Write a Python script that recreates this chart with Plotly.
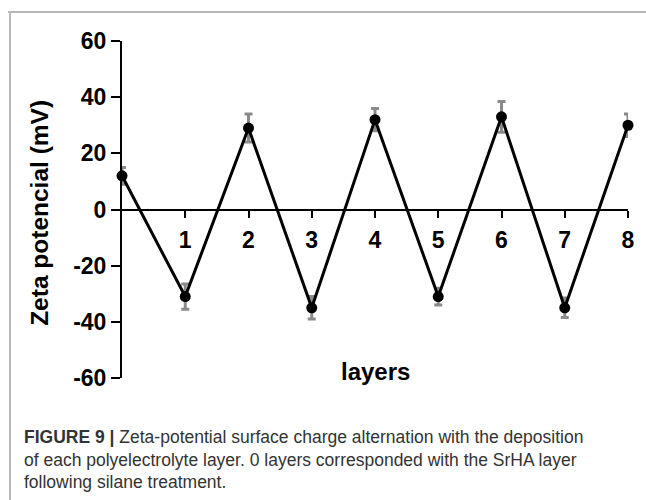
import plotly.graph_objects as go

layers = [0, 1, 2, 3, 4, 5, 6, 7, 8]
zeta = [12, -31, 29, -35, 32, -31, 33, -35, 30]
err = [3, 4.5, 5, 4, 4, 3, 5.5, 3.5, 4]
x_ticks = [1, 2, 3, 4, 5, 6, 7, 8]
y_ticks = [-60, -40, -20, 0, 20, 40, 60]

FONT = "Liberation Sans, Arial, sans-serif"

fig = go.Figure()
# error bars (drawn beneath the line)
fig.add_trace(go.Scatter(
    x=layers, y=zeta, mode="markers",
    marker=dict(size=1, color="rgba(0,0,0,0)"),
    error_y=dict(type="data", array=err, visible=True, color="#8a8a8a",
                 thickness=3, width=4),
    cliponaxis=False, showlegend=False, hoverinfo="skip"))
fig.add_trace(go.Scatter(
    x=layers, y=zeta, mode="lines+markers",
    line=dict(color="black", width=3),
    marker=dict(size=11, color="black"),
    cliponaxis=False, showlegend=False))

fig.update_layout(
    width=646, height=500,
    margin=dict(l=122, r=18, t=41, b=122),
    paper_bgcolor="white", plot_bgcolor="white",
    font=dict(family=FONT, color="black"),
    xaxis=dict(range=[0, 8], tickvals=x_ticks, ticktext=[str(v) for v in x_ticks],
               showline=True, linecolor="black", linewidth=2,
               ticks="outside", ticklen=7, tickwidth=2, tickcolor="black",
               ticklabelstandoff=3,
               tickfont=dict(size=23, family=FONT, weight="bold"),
               anchor="free", position=0.5, showgrid=False, zeroline=False),
    yaxis=dict(range=[-60, 60], tickvals=y_ticks,
               ticktext=[str(v) for v in y_ticks],
               showline=True, linecolor="black", linewidth=2,
               ticks="outside", ticklen=9, tickwidth=2, tickcolor="black",
               tickfont=dict(size=23, family=FONT, weight="bold"),
               showgrid=False, zeroline=False),
    shapes=[
        dict(type="line", xref="paper", yref="paper", x0=-0.2253, x1=1.05,
             y0=1.0861, y1=1.0861, line=dict(color="#b8b8b8", width=2)),
        dict(type="line", xref="paper", yref="paper", x0=-0.2213, x1=-0.2213,
             y0=1.0861, y1=-0.40, line=dict(color="#b8b8b8", width=2)),
    ],
    annotations=[
        dict(text="<b>Zeta potencial (mV)</b>", xref="paper", yref="paper",
             x=0, y=0.49, xshift=-82, textangle=-90, showarrow=False,
             xanchor="center", yanchor="middle",
             font=dict(size=24.5, family=FONT, color="black")),
        dict(text="<b>layers</b>", xref="paper", yref="paper",
             x=0.5, y=0.018, showarrow=False, xanchor="center", yanchor="middle",
             font=dict(size=24, family=FONT, color="black")),
        dict(text="<b>FIGURE 9 |</b> Zeta-potential surface charge alternation with the deposition",
             xref="paper", yref="paper", x=0, xshift=-100, y=-0.175, showarrow=False,
             xanchor="left", yanchor="middle", font=dict(size=17.5, family=FONT, color="#333333")),
        dict(text="of each polyelectrolyte layer. 0 layers corresponded with the SrHA layer",
             xref="paper", yref="paper", x=0, xshift=-100, y=-0.243, showarrow=False,
             xanchor="left", yanchor="middle", font=dict(size=17.5, family=FONT, color="#333333")),
        dict(text="following silane treatment.",
             xref="paper", yref="paper", x=0, xshift=-100, y=-0.31, showarrow=False,
             xanchor="left", yanchor="middle", font=dict(size=17.5, family=FONT, color="#333333")),
    ],
)

fig.write_html("out.html")
